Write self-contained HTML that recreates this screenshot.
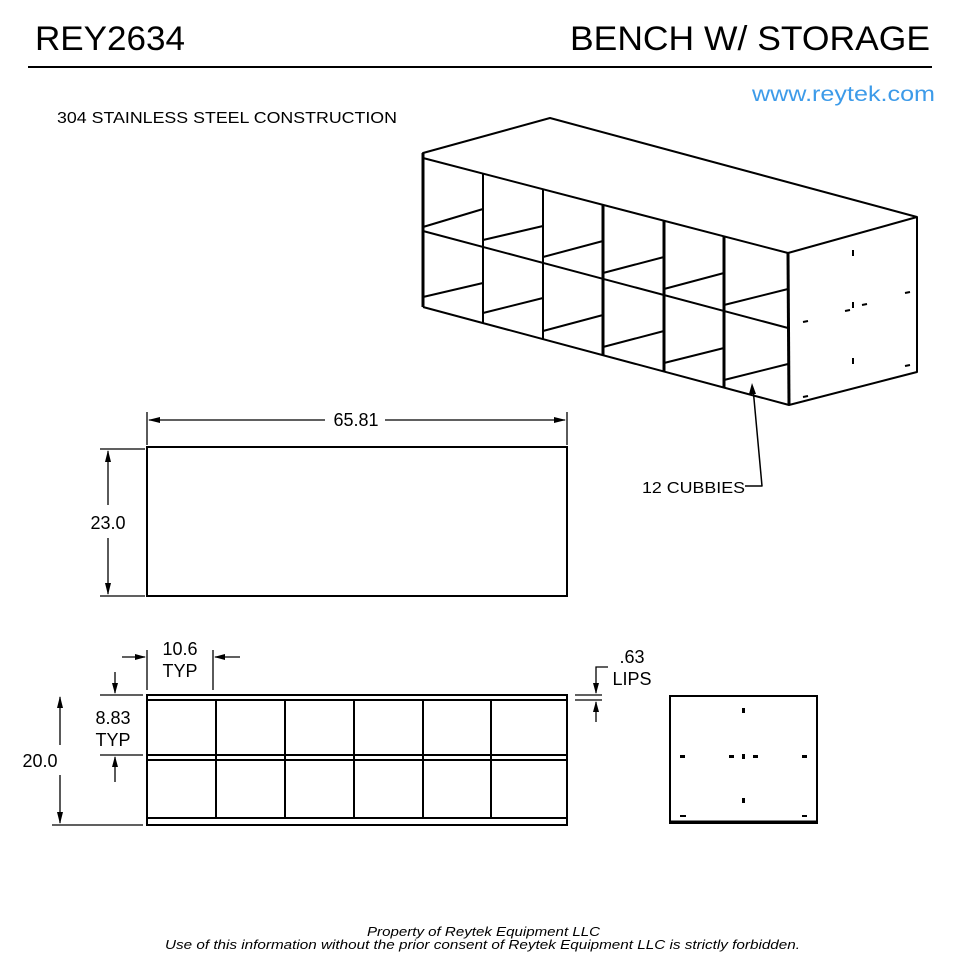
<!DOCTYPE html>
<html><head><meta charset="utf-8"><style>
body{margin:0;background:#fff}
svg{display:block}
text{font-family:"Liberation Sans",sans-serif;fill:#000}
</style></head><body>
<svg width="960" height="960" viewBox="0 0 960 960" xmlns="http://www.w3.org/2000/svg">
<text x="35" y="50" font-size="34" textLength="150" lengthAdjust="spacingAndGlyphs">REY2634</text>
<text x="570" y="50" font-size="34" textLength="360" lengthAdjust="spacingAndGlyphs">BENCH W/ STORAGE</text>
<line x1="28" y1="67" x2="932" y2="67" stroke="#000" stroke-width="2"/>
<text x="752" y="101" font-size="21" textLength="183" lengthAdjust="spacingAndGlyphs" style="fill:#3d9be9">www.reytek.com</text>
<text x="57" y="123" font-size="16" textLength="340" lengthAdjust="spacingAndGlyphs">304 STAINLESS STEEL CONSTRUCTION</text>

<g stroke="#000" stroke-width="2" fill="none" stroke-linejoin="round">
<polyline points="423,307 423,153 550,118 917,217 917,372 789,405 423,307"/>
<line x1="423" y1="158" x2="788" y2="253"/>
<line x1="788" y1="253" x2="917" y2="217"/>
<line x1="788" y1="253" x2="789" y2="405" stroke-width="3"/>
<line x1="423" y1="231" x2="788" y2="328"/>
<line x1="423" y1="153" x2="423" y2="307" stroke-width="3"/>
<line x1="483" y1="174" x2="483" y2="323"/>
<line x1="543" y1="189" x2="543" y2="339"/>
<line x1="603" y1="205" x2="603" y2="355" stroke-width="3"/>
<line x1="664" y1="221" x2="664" y2="372" stroke-width="3"/>
<line x1="724" y1="236" x2="724" y2="388" stroke-width="3"/>
<line x1="423" y1="227" x2="483" y2="209"/>
<line x1="483" y1="240" x2="543" y2="226"/>
<line x1="543" y1="257" x2="603" y2="241"/>
<line x1="603" y1="273" x2="664" y2="257"/>
<line x1="664" y1="289" x2="724" y2="273"/>
<line x1="724" y1="305" x2="788" y2="289"/>
<line x1="423" y1="297" x2="483" y2="283"/>
<line x1="483" y1="313" x2="543" y2="298"/>
<line x1="543" y1="331" x2="603" y2="315"/>
<line x1="603" y1="347" x2="664" y2="331"/>
<line x1="664" y1="363" x2="724" y2="348"/>
<line x1="724" y1="380" x2="788" y2="364"/>
<line x1="853" y1="250" x2="853" y2="256"/>
<line x1="853" y1="302" x2="853" y2="308"/>
<line x1="853" y1="358" x2="853" y2="364"/>
<line x1="845" y1="311" x2="850" y2="310"/>
<line x1="862" y1="305" x2="867" y2="304"/>
<line x1="803" y1="322" x2="808" y2="321"/>
<line x1="905" y1="293" x2="910" y2="292"/>
<line x1="905" y1="366" x2="910" y2="365"/>
<line x1="803" y1="397" x2="808" y2="396"/>
<polyline points="753,388 762,486 745,486" stroke-width="1.5"/>
</g>
<polygon points="752,383 749,394 756,394" fill="#000"/>
<text x="642" y="493" font-size="16" textLength="103" lengthAdjust="spacingAndGlyphs">12 CUBBIES</text>

<g stroke="#000" fill="none">
<rect x="147" y="447" width="420" height="149" stroke-width="2"/>
<line x1="147" y1="412" x2="147" y2="445" stroke-width="1.3"/>
<line x1="567" y1="412" x2="567" y2="445" stroke-width="1.3"/>
<line x1="149" y1="420" x2="325" y2="420" stroke-width="1.3"/>
<line x1="385" y1="420" x2="565" y2="420" stroke-width="1.3"/>
<line x1="100" y1="449" x2="145" y2="449" stroke-width="1.3"/>
<line x1="100" y1="596" x2="145" y2="596" stroke-width="1.3"/>
<line x1="108" y1="451" x2="108" y2="505" stroke-width="1.3"/>
<line x1="108" y1="538" x2="108" y2="594" stroke-width="1.3"/>
</g>
<g fill="#000">
<polygon points="148,420 160,417 160,423"/>
<polygon points="566,420 554,417 554,423"/>
<polygon points="108,450 105,462 111,462"/>
<polygon points="108,595 105,583 111,583"/>
</g>
<text x="356" y="426" font-size="18" text-anchor="middle">65.81</text>
<text x="108" y="529" font-size="18" text-anchor="middle">23.0</text>

<g stroke="#000" fill="none" stroke-width="2">
<rect x="147" y="695" width="420" height="130"/>
<line x1="147" y1="700" x2="567" y2="700"/>
<line x1="147" y1="755" x2="567" y2="755"/>
<line x1="147" y1="760" x2="567" y2="760"/>
<line x1="147" y1="818" x2="567" y2="818"/>
<line x1="216" y1="700" x2="216" y2="818"/>
<line x1="285" y1="700" x2="285" y2="818"/>
<line x1="354" y1="700" x2="354" y2="818"/>
<line x1="423" y1="700" x2="423" y2="818"/>
<line x1="491" y1="700" x2="491" y2="818"/>
</g>
<g stroke="#000" fill="none" stroke-width="1.3">
<line x1="147" y1="650" x2="147" y2="690"/>
<line x1="213" y1="650" x2="213" y2="690"/>
<line x1="122" y1="657" x2="145" y2="657"/>
<line x1="215" y1="657" x2="240" y2="657"/>
<line x1="100" y1="695" x2="143" y2="695"/>
<line x1="100" y1="755" x2="143" y2="755"/>
<line x1="52" y1="825" x2="143" y2="825"/>
<line x1="115" y1="672" x2="115" y2="693"/>
<line x1="115" y1="757" x2="115" y2="782"/>
<line x1="60" y1="697" x2="60" y2="745"/>
<line x1="60" y1="775" x2="60" y2="823"/>
<line x1="575" y1="695" x2="602" y2="695"/>
<line x1="575" y1="700" x2="602" y2="700"/>
<polyline points="596,693 596,667 608,667"/>
<line x1="596" y1="702" x2="596" y2="722"/>
</g>
<g fill="#000">
<polygon points="146,657 135,654 135,660"/>
<polygon points="214,657 225,654 225,660"/>
<polygon points="115,694 112,683 118,683"/>
<polygon points="115,756 112,767 118,767"/>
<polygon points="60,696 57,708 63,708"/>
<polygon points="60,824 57,812 63,812"/>
<polygon points="596,694 593,683 599,683"/>
<polygon points="596,701 593,712 599,712"/>
</g>
<text x="180" y="655" font-size="18" text-anchor="middle">10.6</text>
<text x="180" y="677" font-size="18" text-anchor="middle">TYP</text>
<text x="113" y="724" font-size="18" text-anchor="middle">8.83</text>
<text x="113" y="746" font-size="18" text-anchor="middle">TYP</text>
<text x="40" y="767" font-size="18" text-anchor="middle">20.0</text>
<text x="632" y="663" font-size="18" text-anchor="middle">.63</text>
<text x="632" y="685" font-size="18" text-anchor="middle">LIPS</text>

<g stroke="#000" fill="none" stroke-width="2">
<rect x="670" y="696" width="147" height="127"/>
<line x1="670" y1="822" x2="817" y2="822" stroke-width="3"/>
</g>
<g fill="#000">
<rect x="742" y="708" width="3" height="5"/>
<rect x="742" y="754" width="3" height="5"/>
<rect x="742" y="798" width="3" height="5"/>
<rect x="680" y="755" width="5" height="3"/>
<rect x="729" y="755" width="5" height="3"/>
<rect x="753" y="755" width="5" height="3"/>
<rect x="802" y="755" width="5" height="3"/>
<rect x="680" y="815" width="6" height="2"/>
<rect x="802" y="815" width="5" height="2"/>
</g>

<text x="367" y="936" font-size="13" font-style="italic" textLength="233" lengthAdjust="spacingAndGlyphs">Property of Reytek Equipment LLC</text>
<text x="165" y="949" font-size="13" font-style="italic" textLength="635" lengthAdjust="spacingAndGlyphs">Use of this information without the prior consent of Reytek Equipment LLC is strictly forbidden.</text>
</svg>
</body></html>
